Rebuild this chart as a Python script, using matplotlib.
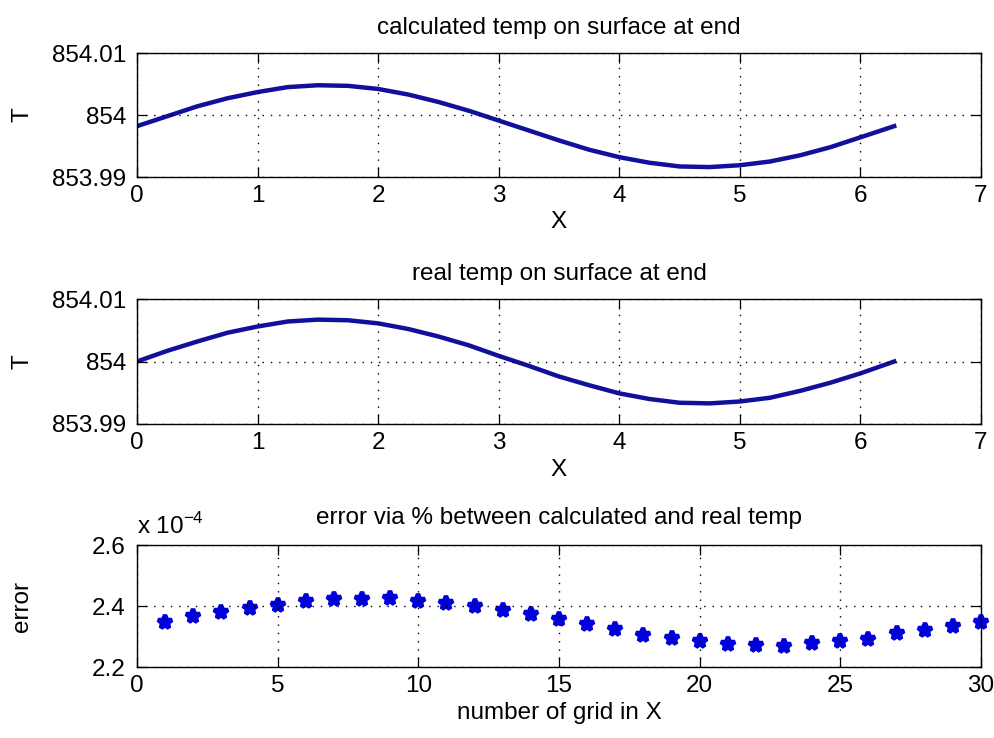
import matplotlib
matplotlib.use('Agg')
import matplotlib.pyplot as plt

plt.rcParams['font.family'] = ['Liberation Sans', 'DejaVu Sans']
plt.rcParams['font.size'] = 17.5
plt.rcParams['mathtext.fontset'] = 'custom'
plt.rcParams['mathtext.rm'] = 'Liberation Sans'

# x positions along the surface
x_pos = [0.0, 0.25, 0.5, 0.75, 1.0, 1.25, 1.5, 1.75, 2.0, 2.25, 2.5, 2.75, 3.0,
         3.25, 3.5, 3.75, 4.0, 4.25, 4.5, 4.75, 5.0, 5.25, 5.5, 5.75, 6.0, 6.28]

# calculated temp on surface at end
t_calc = [853.9982, 853.9998, 854.0014, 854.0027, 854.0037, 854.0045, 854.0048,
          854.0047, 854.0042, 854.0033, 854.0021, 854.0007, 853.9991, 853.9975,
          853.9959, 853.9944, 853.9932, 853.9923, 853.9917, 853.9916, 853.9919,
          853.9925, 853.9935, 853.9948, 853.9964, 853.9982]

# real temp on surface at end
t_real = [854.0000, 854.0017, 854.0032, 854.0046, 854.0056, 854.0064, 854.0067,
          854.0066, 854.0061, 854.0052, 854.0040, 854.0026, 854.0009, 853.9993,
          853.9976, 853.9962, 853.9949, 853.9940, 853.9934, 853.9933, 853.9936,
          853.9942, 853.9953, 853.9966, 853.9981, 854.0000]

# error (%) per grid point, in units of 1e-4
grid_n = list(range(1, 31))
err_e4 = [2.348, 2.366, 2.379, 2.394, 2.404, 2.415, 2.422, 2.424, 2.425, 2.417,
          2.410, 2.400, 2.387, 2.373, 2.356, 2.342, 2.326, 2.306, 2.294, 2.285,
          2.277, 2.272, 2.270, 2.279, 2.285, 2.291, 2.313, 2.321, 2.336, 2.349]

line_col = '#10109c'
mark_col = '#0000d8'
fs = 17.5

W, H = 995, 738
fig = plt.figure(figsize=(W / 100, H / 100), dpi=100)
AX_L, AX_R = 137, 981


def box(top, bottom, left=AX_L, right=AX_R):
    return [left / W, 1 - bottom / H, (right - left) / W, (bottom - top) / H]


def matlab_style(ax):
    ax.tick_params(direction='in', length=7, width=0.9, top=True, right=True,
                   labelsize=fs, pad=6)
    ax.tick_params(axis='y', pad=8)
    for s in ax.spines.values():
        s.set_linewidth(1.0)
    ax.grid(True, color='black', linestyle=(0, (1, 5)), linewidth=1.0)
    ax.set_axisbelow(False)
    # ylabel sits near the left edge of the figure, like MATLAB
    ax.yaxis.set_label_coords((33 - AX_L) / (AX_R - AX_L), 0.5)


t_ticks = [853.99, 854, 854.01]
t_labels = ['853.99', '854', '854.01']

ax1 = fig.add_axes(box(53, 177))
ax1.plot(x_pos, t_calc, color=line_col, lw=3.2)
ax1.set_xlim(0, 7)
ax1.set_ylim(853.99, 854.01)
ax1.set_xticks(range(0, 8))
ax1.set_yticks(t_ticks)
ax1.set_yticklabels(t_labels)
ax1.set_title('calculated temp on surface at end', fontsize=fs, pad=14)
ax1.set_xlabel('X', labelpad=3)
ax1.set_ylabel('T')
matlab_style(ax1)

ax2 = fig.add_axes(box(299, 424))
ax2.plot(x_pos, t_real, color=line_col, lw=3.2)
ax2.set_xlim(0, 7)
ax2.set_ylim(853.99, 854.01)
ax2.set_xticks(range(0, 8))
ax2.set_yticks(t_ticks)
ax2.set_yticklabels(t_labels)
ax2.set_title('real temp on surface at end', fontsize=fs, pad=14)
ax2.set_xlabel('X', labelpad=3)
ax2.set_ylabel('T')
matlab_style(ax2)

ax3 = fig.add_axes(box(545, 667))
ax3.plot(grid_n, err_e4, linestyle='none', marker='*', ms=10.5, mew=3.2,
         color=mark_col, mec=mark_col, clip_on=False)
ax3.set_xlim(0, 30)
ax3.set_ylim(2.2, 2.6)
ax3.set_xticks(range(0, 31, 5))
ax3.set_yticks([2.2, 2.4, 2.6])
ax3.set_yticklabels(['2.2', '2.4', '2.6'])
ax3.set_title('error via % between calculated and real temp', fontsize=fs, pad=15)
ax3.set_xlabel('number of grid in X', labelpad=3)
ax3.set_ylabel('error')
ax3.text(0.0, 1.09, r'x 10$^{-4}$', transform=ax3.transAxes, ha='left',
         va='baseline', fontsize=fs)
matlab_style(ax3)

fig.savefig('out.png', dpi=100)
